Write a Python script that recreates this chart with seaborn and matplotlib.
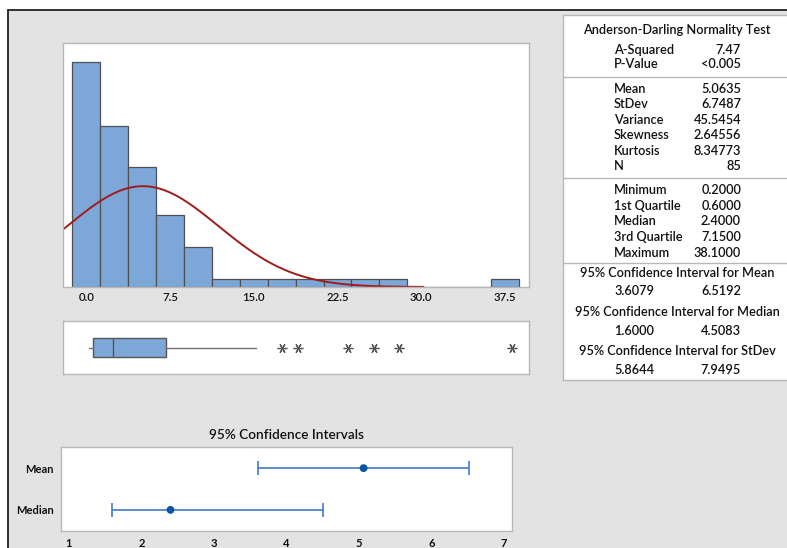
import numpy as np
import pandas as pd
import matplotlib
matplotlib.use("Agg")
import matplotlib.pyplot as plt
import seaborn as sns
from matplotlib.lines import Line2D
from matplotlib.patches import Rectangle

# ---------------- data ----------------
bin_centers = [0.0, 2.5, 5.0, 7.5, 10.0, 12.5, 15.0, 17.5, 20.0, 22.5,
               25.0, 27.5, 30.0, 32.5, 35.0, 37.5]
bin_counts = [28, 20, 15, 9, 5, 1, 1, 1, 1, 1, 1, 1, 0, 0, 0, 1]
hist_ticks = [0.0, 7.5, 15.0, 22.5, 30.0, 37.5]
hist_tick_labels = ["0.0", "7.5", "15.0", "22.5", "30.0", "37.5"]

n_obs = 85
mean_val = 5.0635
sd_val = 6.7487

box_min = 0.2
box_q1 = 0.6
box_median = 2.4
box_q3 = 7.15
box_whisker_hi = 15.2
box_outliers = [17.5, 19.0, 23.4, 25.8, 28.05, 38.1]

ci_labels = ["Mean", "Median"]
ci_estimates = [5.0635, 2.4]
ci_lower = [3.6079, 1.6000]
ci_upper = [6.5192, 4.5083]
ci_ticks = [1, 2, 3, 4, 5, 6, 7]

ad_title = "Anderson-Darling Normality Test"
ad_rows = [("A-Squared", "7.47"), ("P-Value", "<0.005")]
desc_rows = [("Mean", "5.0635"), ("StDev", "6.7487"), ("Variance", "45.5454"),
             ("Skewness", "2.64556"), ("Kurtosis", "8.34773"), ("N", "85")]
quant_rows = [("Minimum", "0.2000"), ("1st Quartile", "0.6000"), ("Median", "2.4000"),
              ("3rd Quartile", "7.1500"), ("Maximum", "38.1000")]
ci_rows = [("95% Confidence Interval for Mean", "3.6079", "6.5192"),
           ("95% Confidence Interval for Median", "1.6000", "4.5083"),
           ("95% Confidence Interval for StDev", "5.8644", "7.9495")]

# ---------------- style ----------------
sns.set_style("white")
plt.rcParams["font.family"] = ["Lato", "DejaVu Sans"]

W, H = 787, 548
BG = "#e3e3e3"
PANEL_EDGE = "#b8b8b8"
BAR = "#7da7d9"
BAR_EDGE = "#505050"
CURVE = "#a01c1c"
TXT = "#111111"

fig = plt.figure(figsize=(W / 100, H / 100), dpi=100, facecolor="white")


def fx(x):
    return x / W


def fy(y):
    return 1 - y / H


def px_axes(x0, y0, x1, y1):
    return fig.add_axes([fx(x0), fy(y1), fx(x1) - fx(x0), (y1 - y0) / H])


# outer gray area with black frame on top/left
fig.add_artist(Rectangle((fx(8), 0), 1 - fx(8), fy(10), transform=fig.transFigure,
                         facecolor=BG, edgecolor="none", zorder=-10))
fig.add_artist(Line2D([fx(8), 1], [fy(10), fy(10)], transform=fig.transFigure,
                      color="#222222", lw=1.3))
fig.add_artist(Line2D([fx(8), fx(8)], [0, fy(10)], transform=fig.transFigure,
                      color="#222222", lw=1.3))


def style_panel(ax):
    ax.set_facecolor("white")
    for s in ax.spines.values():
        s.set_visible(True)
        s.set_color(PANEL_EDGE)
        s.set_linewidth(1.0)


renderer = fig.canvas.get_renderer()


def fit_size(text, target, base=9.0, **kw):
    t = fig.text(0, 0, text, fontsize=base, **kw)
    w = t.get_window_extent(renderer).width
    t.remove()
    return base * target / w


# ---------------- histogram ----------------
ax_h = px_axes(63, 43, 529, 287)
style_panel(ax_h)
hist_df = pd.DataFrame({"value": bin_centers, "count": bin_counts})
sns.histplot(data=hist_df, x="value", weights="count", binwidth=2.5,
             binrange=(-1.25, 38.75), color=BAR, edgecolor=BAR_EDGE,
             linewidth=0.9, alpha=1.0, ax=ax_h)
xlim_hist = (-2.09, 39.65)
xs = np.linspace(xlim_hist[0], 30.2, 300)
ys = n_obs * 2.5 * np.exp(-0.5 * ((xs - mean_val) / sd_val) ** 2) / (sd_val * np.sqrt(2 * np.pi))
sns.lineplot(x=xs, y=ys, color=CURVE, lw=1.4, ax=ax_h)
ax_h.set_xlim(*xlim_hist)
ax_h.set_ylim(0, 30.4)
ax_h.set_xticks(hist_ticks)
ax_h.set_xticklabels(hist_tick_labels)
ax_h.set_yticks([])
ax_h.tick_params(axis="x", length=0, pad=3.5, labelsize=8.2, labelcolor=TXT)
for lab in ax_h.get_xticklabels():
    lab.set_fontweight("semibold")
ax_h.set_xlabel("")
ax_h.set_ylabel("")

# ---------------- boxplot ----------------
ax_b = px_axes(63, 321, 529, 374)
style_panel(ax_b)
stats = [dict(med=box_median, q1=box_q1, q3=box_q3, whislo=box_min,
              whishi=box_whisker_hi, fliers=box_outliers)]
ax_b.bxp(stats, positions=[1], widths=0.34, orientation="horizontal",
         patch_artist=True, showcaps=False,
         boxprops=dict(facecolor=BAR, edgecolor="#555555", linewidth=1.0),
         medianprops=dict(color="#555555", linewidth=1.0),
         whiskerprops=dict(color="#707070", linewidth=1.0),
         flierprops=dict(marker=(6, 2, 90), markersize=7, markeredgecolor="#555555",
                         markerfacecolor="#555555", markeredgewidth=0.9))
ax_b.set_xlim(*xlim_hist)
ax_b.set_ylim(0.5, 1.5)
ax_b.set_xticks([])
ax_b.set_yticks([])

# ---------------- confidence intervals ----------------
ax_c = px_axes(61, 447.3, 511.7, 530.7)
style_panel(ax_c)
ypos = list(range(len(ci_labels)))
xerr = [[e - lo for e, lo in zip(ci_estimates, ci_lower)],
        [hi - e for e, hi in zip(ci_estimates, ci_upper)]]
ax_c.errorbar(ci_estimates, ypos, xerr=xerr, fmt="none", ecolor="#3f7cc6",
              elinewidth=1.2, capsize=5, capthick=1.2, zorder=2)
sns.scatterplot(x=ci_estimates, y=ypos, color="#0b55a5", s=32, edgecolor="none",
                zorder=3, ax=ax_c)
ax_c.set_xlim(0.89, 7.106)
ax_c.set_ylim(1.5, -0.5)
ax_c.set_xticks(ci_ticks)
ax_c.set_xticklabels([str(t) for t in ci_ticks])
ax_c.set_yticks(ypos)
ax_c.set_yticklabels(ci_labels)
ax_c.tick_params(axis="both", length=3, width=0.8, color="#999999", pad=2,
                 labelsize=8.0, labelcolor=TXT)
for lab in ax_c.get_xticklabels() + ax_c.get_yticklabels():
    lab.set_fontweight("bold")
ax_c.tick_params(axis="y", length=2, pad=3)
ax_c.set_xlabel("")
ax_c.set_ylabel("")

fig.text(fx(286.3), fy(435), "95% Confidence Intervals", fontsize=9.8,
         ha="center", va="center", color=TXT, weight="semibold")

# ---------------- statistics table ----------------
ax_t = px_axes(563.3, 15, 792, 380)
ax_t.set_facecolor("white")
for k, s in ax_t.spines.items():
    s.set_color(PANEL_EDGE)
    s.set_linewidth(1.0)
ax_t.spines["right"].set_visible(False)
ax_t.set_xlim(563.3, 792)
ax_t.set_ylim(380, 15)
ax_t.set_xticks([])
ax_t.set_yticks([])

TW = "semibold"
tfs = fit_size(ad_title, 189, weight=TW)
LX, RX, CX = 614, 741, 677


def ttext(x, y, s, ha):
    ax_t.text(x, y, s, fontsize=tfs, ha=ha, va="center", color=TXT, weight=TW)


def trow(y, label, value):
    ttext(LX, y, label, "left")
    ttext(RX, y, value, "right")


ttext(CX, 30, ad_title, "center")
for (lab, val), y in zip(ad_rows, [49.5, 64.3]):
    trow(y, lab, val)
ax_t.axhline(76.5, color=PANEL_EDGE, lw=1.0)
for (lab, val), y in zip(desc_rows, [88.8, 104.2, 119.8, 135.4, 151.0, 166.4]):
    trow(y, lab, val)
ax_t.axhline(177.5, color=PANEL_EDGE, lw=1.0)
for (lab, val), y in zip(quant_rows, [190, 205.8, 221.4, 237, 252.6]):
    trow(y, lab, val)
ax_t.axhline(263.3, color=PANEL_EDGE, lw=1.0)
for (head, lo, hi), yh, yv in zip(ci_rows, [273, 311.5, 351], [291, 331, 370]):
    ttext(CX, yh, head, "center")
    ttext(LX, yv, lo, "left")
    ttext(RX, yv, hi, "right")

fig.savefig("out.png", dpi=100, facecolor="white")
